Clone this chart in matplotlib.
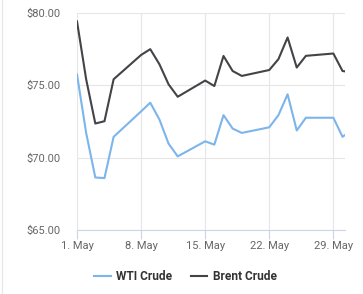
import matplotlib
matplotlib.use("Agg")
import matplotlib.pyplot as plt
from matplotlib.ticker import FuncFormatter, FixedLocator
from matplotlib.lines import Line2D

plt.rcParams['font.family'] = ['Roboto', 'DejaVu Sans']

# trading days in May
days = [1, 2, 3, 4, 5, 8, 9, 10, 11, 12, 15, 16, 17, 18, 19,
        22, 23, 24, 25, 26, 29, 30, 31]
wti = [75.76, 71.71, 68.63, 68.59, 71.44, 73.2, 73.80, 72.64, 70.97, 70.09,
       71.13, 70.90, 72.94, 72.01, 71.71, 72.10, 72.94, 74.38, 71.88, 72.76,
       72.76, 71.44, 71.9]
brent = [79.42, 75.42, 72.36, 72.52, 75.42, 77.1, 77.50, 76.46, 75.07, 74.21,
         75.33, 74.95, 77.03, 75.99, 75.65, 76.06, 76.81, 78.31, 76.23, 77.04,
         77.20, 75.99, 75.9]
tick_days = [1, 8, 15, 22, 29]
tick_labels = ["1. May", "8. May", "15. May", "22. May", "29. May"]
y_ticks = [65, 70, 75, 80]

fig = plt.figure(figsize=(3.63, 2.94), dpi=100)
ax = fig.add_axes([77 / 363, 1 - 230 / 294, (345 - 77) / 363, (230 - 13) / 294])

ax.plot(days, wti, color="#7cb5ec", lw=1.5, label="WTI Crude", solid_joinstyle="round")
ax.plot(days, brent, color="#434348", lw=1.5, label="Brent Crude", solid_joinstyle="round")

ax.set_xlim(1, 30.27)
ax.set_ylim(65, 80)
ax.xaxis.set_major_locator(FixedLocator(tick_days))
ax.set_xticklabels(tick_labels)
ax.set_yticks(y_ticks)
ax.yaxis.set_major_formatter(FuncFormatter(lambda v, p: f"${v:.2f}"))

ax.grid(True, color="#e6e6e6", lw=0.8)
ax.set_axisbelow(True)
for s in ["top", "right", "left"]:
    ax.spines[s].set_visible(False)
ax.spines["bottom"].set_color("#ccd6eb")
ax.spines["bottom"].set_linewidth(0.8)
ax.tick_params(axis="x", length=6.5, color="#ccd6eb", width=0.8,
               labelsize=8, labelcolor="#666666", pad=1.5)
ax.tick_params(axis="y", length=0, labelsize=8, labelcolor="#666666", pad=12)

# container border at left
fig.add_artist(Line2D([1.5 / 363, 1.5 / 363], [0, 1], color="#e6e6e6", lw=0.8))

handles, labels = ax.get_legend_handles_labels()
leg = fig.legend(handles, labels, loc="center", bbox_to_anchor=(185.5 / 363, 1 - 276.5 / 294),
                 ncol=2, frameon=False, handlelength=1.35, handletextpad=0.45,
                 columnspacing=1.6, prop={"size": 8.6, "weight": "bold"})
for t in leg.get_texts():
    t.set_color("#333333")
for l in leg.get_lines():
    l.set_linewidth(1.5)

fig.savefig("out.png", dpi=100)
